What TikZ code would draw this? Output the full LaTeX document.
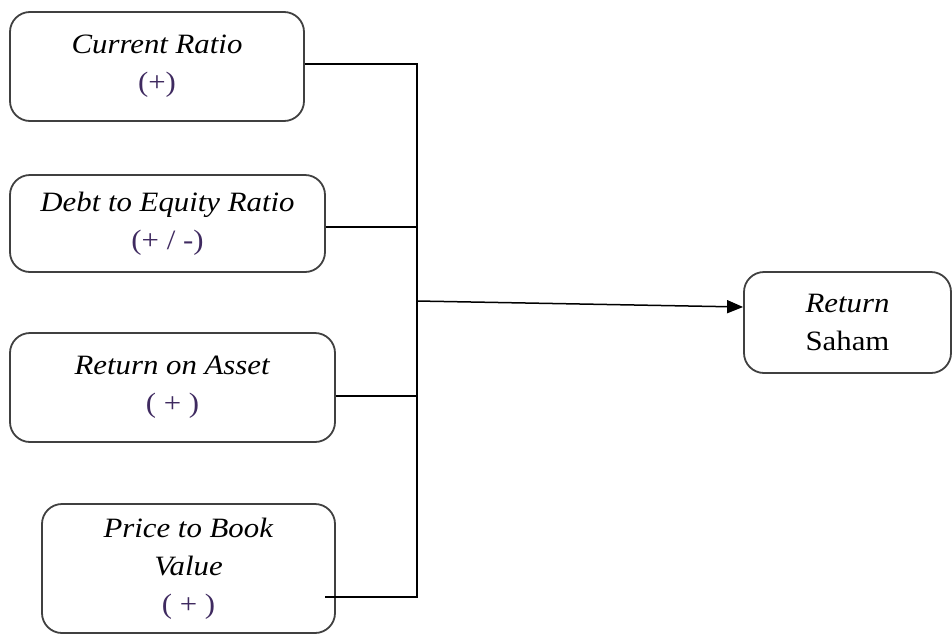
\documentclass[tikz,border=0pt]{standalone}
\usepackage{fontspec}
\setmainfont{Liberation Serif}[FakeStretch=1.1]
\usetikzlibrary{arrows.meta}
\definecolor{boxline}{HTML}{404040}
\definecolor{signcol}{HTML}{3F2A60}
\tikzset{
  varbox/.style={draw=boxline, line width=1.8pt, rounded corners=20pt, align=center,
    inner sep=0pt, font=\fontsize{28}{38}\selectfont},
  link/.style={draw=black, line width=1.5pt},
  arrowlink/.style={link, -{Triangle[length=16pt,width=13pt]}}
}
\begin{document}
\begin{tikzpicture}[x=1pt,y=-1pt]
\useasboundingbox (0,0) rectangle (952,635);
\node[varbox, minimum width=294pt, minimum height=109pt] (b1) at (157,66.5)
  {\textit{Current Ratio}\\\textcolor{signcol}{(+)}};
\node[varbox, minimum width=315pt, minimum height=97pt] (b2) at (167.5,223.5)
  {\textit{Debt to Equity Ratio}\\\textcolor{signcol}{(+ / -)}};
\node[varbox, minimum width=325pt, minimum height=109pt] (b3) at (172.5,387.5)
  {\textit{Return on Asset}\\\textcolor{signcol}{( + )}};
\node[varbox, minimum width=293pt, minimum height=129pt] (b4) at (188.5,568.5)
  {\textit{Price to Book}\\\textit{Value}\\\textcolor{signcol}{( + )}};
\node[varbox, minimum width=207pt, minimum height=101pt] (b5) at (847.5,322.5)
  {\textit{Return}\\Saham};
\coordinate (ttop) at (417,64);
\coordinate (tbot) at (417,597);
\coordinate (tmid) at (417,301);
\coordinate (p4) at (325,597);
\draw[link] (b1.east |- ttop) -- (ttop) -- (tbot) -- (p4);
\draw[link] (b2.east |- 0,227) -- (417,227);
\draw[link] (b3.east |- 0,396) -- (417,396);
\draw[arrowlink] (tmid) -- (b5.west |- 0,307);
\end{tikzpicture}
\end{document}
